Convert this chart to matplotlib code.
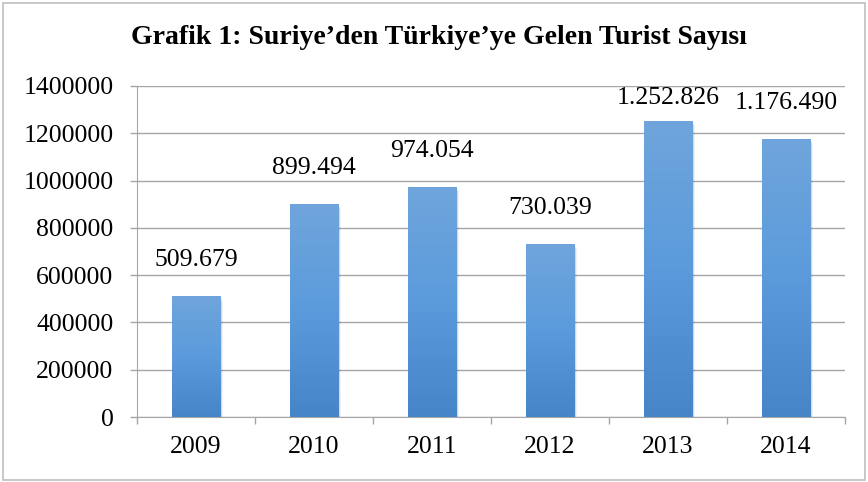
import matplotlib.pyplot as plt
import numpy as np
from matplotlib.patches import Rectangle

years = ['2009', '2010', '2011', '2012', '2013', '2014']
tourists = [509679, 899494, 974054, 730039, 1252826, 1176490]
value_labels = ['509.679', '899.494', '974.054', '730.039', '1.252.826', '1.176.490']
yticks = [0, 200000, 400000, 600000, 800000, 1000000, 1200000, 1400000]

plt.rcParams['font.family'] = ['Liberation Serif', 'DejaVu Serif']

fig = plt.figure(figsize=(8.68, 4.82), dpi=100)
ax = fig.add_axes([137 / 868, 1 - 417 / 482, (845 - 137) / 868, (417 - 86) / 482])

# outer frame of the chart
fig.patches.append(Rectangle((3 / 868, 2 / 482), 862 / 868, 477 / 482,
                             transform=fig.transFigure, fill=False,
                             edgecolor='#bfbfbf', linewidth=1.2))

x = np.arange(len(years))
width = 0.41
ymax = 1400000
grad = np.linspace(0, 1, 256).reshape(-1, 1)
cmap = plt.matplotlib.colors.LinearSegmentedColormap.from_list(
    'bar', ['#4585c8', '#5b9bdc', '#6fa5db'])

for xi, v, lab in zip(x, tourists, value_labels):
    # soft shadow, a few faint layers
    for k in range(4):
        d = 0.006 * (k + 1)
        ax.add_patch(Rectangle((xi - width / 2 + d, -1000), width, v - 4000 * (k + 1),
                               facecolor='#000000', alpha=0.05, edgecolor='none',
                               zorder=2))
    bar = Rectangle((xi - width / 2, 0), width, v, facecolor='none',
                    edgecolor='none', zorder=3)
    ax.add_patch(bar)
    im = ax.imshow(grad, cmap=cmap, aspect='auto', origin='lower',
                   extent=(xi - width / 2, xi + width / 2, 0, v), zorder=3)
    im.set_clip_path(bar)
    ly = min(v + 0.109 * ymax, 0.964 * ymax)
    ax.text(xi, ly, lab, ha='center', va='center', fontsize=18.5, clip_on=False)

ax.set_xlim(-0.5, len(years) - 0.5)
ax.set_ylim(0, ymax)
ax.set_yticks(yticks)
ax.set_yticklabels([str(t) for t in yticks], fontsize=18.5)
ax.set_xticks(x)
ax.set_xticklabels(years, fontsize=18.5)
ax.set_xticks(np.arange(-0.5, len(years)), minor=True)
ax.tick_params(axis='x', which='major', length=0, pad=14)
ax.tick_params(axis='x', which='minor', length=5, color='#a6a6a6', width=1)
ax.tick_params(axis='y', length=5, color='#a6a6a6', width=1, pad=12)

ax.grid(axis='y', color='#a6a6a6', linewidth=1)
ax.set_axisbelow(True)
for s in ['top', 'right']:
    ax.spines[s].set_visible(False)
ax.spines['left'].set_color('#a6a6a6')
ax.spines['bottom'].set_color('#a6a6a6')

fig.text(439 / 868, 1 - 38 / 482, 'Grafik 1: Suriye’den Türkiye’ye Gelen Turist Sayısı',
         ha='center', va='center', fontsize=20, fontweight='bold')

fig.savefig('out.png', dpi=100)
